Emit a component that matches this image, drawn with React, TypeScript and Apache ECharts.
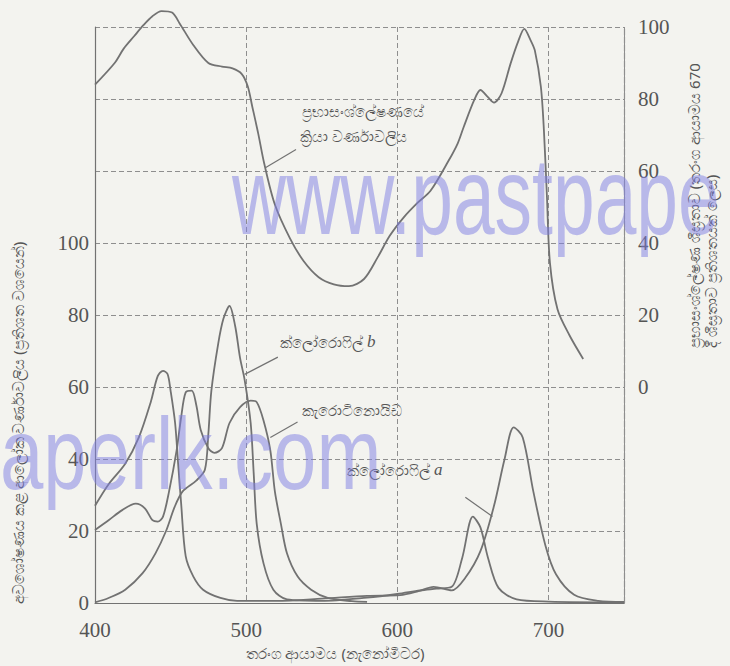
import React, { useEffect, useRef } from "react";
import * as echarts from "echarts";

// Wavelength axis ticks (nm)
const wavelengthTicks = [400, 500, 600, 700];

// Action spectrum of photosynthesis (rate as % of rate at 670 nm, right axis)
const actionWl = [400, 413, 419, 426, 432, 438, 444, 451, 456, 465, 475, 484, 491, 497, 501, 504, 508, 512, 519, 529, 538, 548, 558, 568, 578, 587, 595, 604, 613, 622, 634, 640, 644, 651, 655, 660, 664, 669, 675, 680, 684, 688, 691, 695, 697, 699, 701, 706, 714, 723];
const actionRate = [84, 90, 94, 97.5, 100.5, 103, 104.4, 104, 101, 95, 90, 89, 88.5, 87, 83.6, 78, 70.4, 62, 50.7, 41.3, 35, 30.5, 28.5, 28, 30, 36, 42, 47, 51, 54.5, 62.9, 67.7, 72.3, 79.8, 82.5, 80.5, 79, 81.6, 89.9, 96, 99.5, 96.5, 93.5, 83.4, 71.4, 53, 34.5, 21.6, 14.3, 7.8];

// Chlorophyll a absorption (% , left axis)
const chlAWl = [400, 409, 420, 429, 437, 441.5, 445, 448, 450, 453, 455, 457, 460, 465, 471.5, 483, 494, 520, 550, 580, 602, 614, 624, 636, 645, 655, 664, 671, 677, 683, 690, 698, 705, 717, 733, 750];
const chlAAbs = [27, 33, 38.7, 46, 56, 63, 64.5, 63.6, 59, 50, 38.7, 27.6, 13, 7.4, 3.7, 1.4, 0.6, 0.6, 1.2, 2, 2.2, 3.3, 4.5, 3.5, 7, 14.4, 27, 40, 48.8, 46, 31, 16, 8, 2.3, 0.6, 0.3];

// Chlorophyll b absorption
const chlBWl = [400, 409, 420, 431.5, 440, 447, 452.7, 458, 467, 472.7, 475, 477, 481.5, 485, 489, 492.7, 496, 499, 503, 505, 507, 511.5, 518, 527, 550, 580, 600, 615, 626, 636, 643, 650, 655, 660, 667, 679, 700, 750];
const chlBAbs = [0.2, 1.4, 3.7, 8.3, 13.8, 20, 26.7, 31, 34, 37, 47, 59, 72, 79, 82.5, 77, 68, 62, 50, 36, 22, 11, 3.7, 1, 0.6, 1.5, 2.5, 3.5, 4, 4.5, 12.6, 24, 21, 12.6, 4.2, 1, 0.4, 0.2];

// Carotenoids absorption
const caroWl = [400, 409, 418, 427, 433, 438, 441.5, 445, 449, 454, 457, 460, 464, 467, 470, 475, 479, 484, 489, 496, 503, 507, 511.5, 516, 519, 523, 527, 534, 543, 554, 570, 580];
const caroAbs = [20.3, 23, 25.8, 27.6, 26.3, 23, 22.6, 24, 31, 42.4, 51.6, 58.5, 59, 55, 48, 43, 41.7, 43, 50, 54.4, 56.2, 55.8, 50.7, 42.4, 31, 22, 13.8, 7.4, 3.7, 1.4, 0.5, 0.3];

// Leader lines for the labels: [wavelength, left-axis value] pairs
const leaderAction = [[533, 126], [513, 121]];
const leaderChlB = [[521, 68.3], [499, 63.5]];
const leaderCaro = [[534, 50.3], [516, 46]];
const leaderChlA = [[645, 29.4], [663, 24]];

const pairs = (xs: number[], ys: number[]) => xs.map((x, i) => [x, ys[i]]);

const INK = "#727272";
const GRID = "#8e8e8e";
const TEXT = "#555555";
const WATERMARK = "rgba(125,125,228,0.5)";
const SI_FONT = "'Noto Sans', 'DejaVu Sans', sans-serif";
const NUM_FONT = "'Liberation Serif', 'DejaVu Serif', serif";

export default function App() {
  const ref = useRef<HTMLDivElement>(null);

  useEffect(() => {
    if (!ref.current) return;
    const chart = echarts.init(ref.current, undefined, { renderer: "svg" });

    const curve = (name: string, data: number[][], yAxisIndex: number, extra: any = {}) => ({
      type: "line",
      name,
      data,
      yAxisIndex,
      symbol: "none",
      showSymbol: false,
      smooth: 0.3,
      clip: false,
      silent: true,
      lineStyle: { color: INK, width: 1.8 },
      z: 3,
      ...extra,
    });

    const leader = (pts: number[][]) => [{ coord: pts[0] }, { coord: pts[1] }];

    const label = (left: number, top: number, text: string) => ({
      type: "text",
      left,
      top,
      style: {
        text,
        fill: TEXT,
        font: `15px ${SI_FONT}`,
        rich: { i: { fontFamily: NUM_FONT, fontStyle: "italic", fontSize: 17, fill: TEXT } },
      },
    });

    chart.setOption({
      animation: false,
      backgroundColor: "#f3f3ef",
      grid: { left: 95, right: 106, top: 27, bottom: 63, containLabel: false },
      xAxis: {
        type: "value",
        min: 400,
        max: 750,
        interval: 100,
        axisLine: { show: true, lineStyle: { color: INK, width: 1.2 } },
        axisTick: { show: false },
        axisLabel: {
          color: TEXT,
          fontFamily: NUM_FONT,
          fontSize: 21,
          margin: 16,
          showMaxLabel: false,
          formatter: (v: number) => (wavelengthTicks.includes(v) ? String(v) : ""),
        },
        splitLine: { show: true, lineStyle: { color: GRID, type: [5, 3], width: 1 } },
      },
      yAxis: [
        {
          type: "value",
          min: 0,
          max: 160,
          interval: 20,
          position: "left",
          axisLine: { show: true, lineStyle: { color: INK, width: 1.2 } },
          axisTick: { show: false },
          axisLabel: {
            color: TEXT,
            fontFamily: NUM_FONT,
            fontSize: 21,
            margin: 6,
            formatter: (v: number) => (v <= 100 ? String(v) : ""),
          },
          splitLine: { show: true, lineStyle: { color: GRID, type: [5, 3], width: 1 } },
        },
        {
          type: "value",
          min: -60,
          max: 100,
          interval: 20,
          position: "right",
          axisLine: { show: true, lineStyle: { color: GRID, width: 1.2, type: [6, 2] } },
          axisTick: { show: false },
          axisLabel: {
            color: TEXT,
            fontFamily: NUM_FONT,
            fontSize: 21,
            margin: 14,
            formatter: (v: number) => (v >= 0 ? String(v) : ""),
          },
          splitLine: { show: false },
        },
      ],
      series: [
        curve("ප්‍රභාසංශ්ලේෂණයේ ක්‍රියා වර්ණාවලිය", pairs(actionWl, actionRate), 1),
        curve("ක්ලෝරොෆිල් a", pairs(chlAWl, chlAAbs), 0, {
          markLine: {
            silent: true,
            symbol: ["none", "none"],
            label: { show: false },
            lineStyle: { color: INK, width: 1.2, type: "solid" },
            data: [leader(leaderAction), leader(leaderChlB), leader(leaderCaro), leader(leaderChlA)],
          },
        }),
        curve("ක්ලෝරොෆිල් b", pairs(chlBWl, chlBAbs), 0),
        curve("කැරොටිනොයිඩ", pairs(caroWl, caroAbs), 0),
      ],
      graphic: [
        label(302, 103, "ප්‍රභාසංශ්ලේෂණයේ"),
        label(300, 128, "ක්‍රියා වර්ණාවලිය"),
        label(280, 333, "ක්ලෝරොෆිල් {i|b}"),
        label(302, 402, "කැරොටිනොයිඩ"),
        label(347, 461, "ක්ලෝරොෆිල් {i|a}"),
        {
          type: "text",
          x: 335,
          y: 653,
          style: {
            text: "තරංග ආයාමය (නැනෝමීටර)",
            fill: TEXT,
            font: `15px ${SI_FONT}`,
            align: "center",
            verticalAlign: "middle",
          },
        },
        {
          type: "text",
          x: 18,
          y: 423,
          rotation: Math.PI / 2,
          style: {
            text: "අවශෝෂණය කළ ආලෝක වර්ණාවලිය (ප්‍රතිශත වශයෙන්)",
            fill: TEXT,
            font: `15px ${SI_FONT}`,
            align: "center",
            verticalAlign: "middle",
          },
        },
        {
          type: "text",
          x: 694,
          y: 348,
          rotation: Math.PI / 2,
          style: {
            text: "ප්‍රභාසංශ්ලේෂණ ශීඝ්‍රතාව (තරංග ආයාමය 670",
            fill: TEXT,
            font: `15px ${SI_FONT}`,
            align: "left",
            verticalAlign: "middle",
          },
        },
        {
          type: "text",
          x: 711,
          y: 348,
          rotation: Math.PI / 2,
          style: {
            text: "දී ශීඝ්‍රතාව ප්‍රතිශතයක් ලෙස)",
            fill: TEXT,
            font: `15px ${SI_FONT}`,
            align: "left",
            verticalAlign: "middle",
          },
        },
        {
          type: "text",
          x: 232,
          y: 142,
          scaleY: 1.45,
          z: 100,
          silent: true,
          style: {
            text: "www.pastpape",
            fill: WATERMARK,
            font: `75px 'Liberation Sans', sans-serif`,
            align: "left",
            verticalAlign: "top",
          },
        },
        {
          type: "text",
          x: 0,
          y: 403,
          scaleY: 1.3,
          z: 100,
          silent: true,
          style: {
            text: "aperlk.com",
            fill: WATERMARK,
            font: `78px 'Liberation Sans', sans-serif`,
            align: "left",
            verticalAlign: "top",
          },
        },
      ],
    });

    return () => chart.dispose();
  }, []);

  return (
    <div
      ref={ref}
      style={{ position: "fixed", left: 0, top: 0, width: 730, height: 666, background: "#f3f3ef" }}
    />
  );
}
